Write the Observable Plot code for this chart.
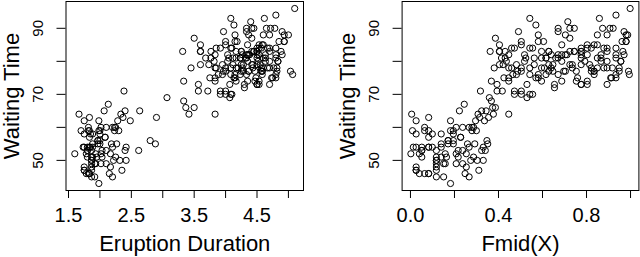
<!DOCTYPE html>
<html>
<head>
<meta charset="utf-8">
<script src="https://cdn.jsdelivr.net/npm/d3@7"></script>
<script src="https://cdn.jsdelivr.net/npm/@observablehq/plot@0.6"></script>
<style>
  html, body { margin: 0; padding: 0; background: #fff; }
  #wrap { display: flex; width: 640px; height: 257px; }
  svg { overflow: visible; }
</style>
</head>
<body>
<div id="wrap"></div>
<script>
// Old Faithful eruptions (minutes) and waiting times (minutes)
const eruptions = [3.600,1.800,3.333,2.283,4.533,2.883,4.700,3.600,1.950,4.350,1.833,3.917,4.200,1.750,4.700,2.167,1.750,4.800,1.600,4.250,1.800,1.750,3.450,3.067,4.533,3.600,1.967,4.083,3.850,4.433,4.300,4.467,3.367,4.033,3.833,2.017,1.867,4.833,1.833,4.783,4.350,1.883,4.567,1.750,4.533,3.317,3.833,2.100,4.633,2.000,4.800,4.716,1.833,4.833,1.733,4.883,3.717,1.667,4.567,4.317,2.233,4.500,1.750,4.800,1.817,4.400,4.167,4.700,2.067,4.700,4.033,1.967,4.500,4.000,1.983,5.067,2.017,4.567,3.883,3.600,4.133,4.333,4.100,2.633,4.067,4.933,3.950,4.517,2.167,4.000,2.200,4.333,1.867,4.817,1.833,4.300,4.667,3.750,1.867,4.900,2.483,4.367,2.100,4.500,4.050,1.867,4.700,1.783,4.850,3.683,4.733,2.300,4.900,4.417,1.700,4.633,2.317,4.600,1.817,4.417,2.617,4.067,4.250,1.967,4.600,3.767,1.917,4.500,2.267,4.650,1.867,4.167,2.800,4.333,1.833,4.383,1.883,4.933,2.033,3.733,4.233,2.233,4.533,4.817,4.333,1.983,4.633,2.017,5.100,1.800,5.033,4.000,2.400,4.600,3.567,4.000,4.500,4.083,1.800,3.967,2.200,4.150,2.000,3.833,3.500,4.583,2.367,5.000,1.933,4.617,1.917,2.083,4.583,3.333,4.167,4.333,4.500,2.417,4.000,4.167,1.883,4.583,4.250,3.767,2.033,4.433,4.083,1.833,4.417,2.183,4.800,1.833,4.800,4.100,3.966,4.233,3.500,4.366,2.250,4.667,2.100,4.350,4.133,1.867,4.600,1.783,4.367,3.850,1.933,4.500,2.383,4.700,1.867,3.833,3.417,4.233,2.400,4.800,2.000,4.150,1.867,4.267,1.750,4.483,4.000,4.117,4.083,4.267,3.917,4.550,4.083,2.417,4.183,2.217,4.450,1.883,1.850,4.283,3.950,2.333,4.150,2.350,4.933,2.900,4.583,3.833,2.083,4.367,2.133,4.350,2.200,4.450,3.567,4.500,4.150,3.817,3.917,4.450,2.000,4.283,4.767,4.533,1.850,4.250,1.983,2.250,4.750,4.117,2.150,4.417,1.817,4.467];
const waiting = [79,54,74,62,85,55,88,85,51,85,54,84,78,47,83,52,62,84,52,79,51,47,78,69,74,83,55,76,78,79,73,77,66,80,74,52,48,80,59,90,80,58,84,58,73,83,64,53,82,59,75,90,54,80,54,83,71,64,77,81,59,84,48,82,60,92,78,78,65,73,82,56,79,71,62,76,60,78,76,83,75,82,70,65,73,88,76,80,48,86,60,90,50,78,63,72,84,75,51,82,62,88,49,83,81,47,84,52,86,81,75,59,89,79,59,81,50,85,59,87,53,69,77,56,88,81,45,82,55,90,45,83,56,89,46,82,51,86,53,79,81,60,82,77,76,59,80,49,96,53,77,77,65,81,71,70,81,93,53,89,45,86,58,78,66,76,63,88,52,93,49,57,77,68,81,81,73,50,85,74,55,77,83,83,51,78,84,46,83,55,81,57,76,84,77,81,87,77,51,78,60,82,91,53,78,46,77,84,49,83,71,80,49,75,64,76,53,94,55,76,50,82,54,75,78,79,78,78,70,79,70,54,86,50,90,54,54,77,79,64,75,47,86,63,85,82,57,82,67,74,54,83,73,73,88,80,71,83,56,79,78,84,58,83,43,60,75,81,46,90,46,74];

const xTicksLeft = [1.5, 2, 2.5, 3, 3.5, 4, 4.5, 5];
const xLabelsLeft = [1.5, 2.5, 3.5, 4.5];
const xTicksRight = [0, 0.2, 0.4, 0.6, 0.8, 1.0];
const xLabelsRight = [0, 0.4, 0.8];
const yTicks = [50, 60, 70, 80, 90];
const yLabels = [50, 70, 90];
const xTitleLeft = "Eruption Duration";
const xTitleRight = "Fmid(X)";
const yTitle = "Waiting Time";

// mid-distribution function of eruption durations
const n = eruptions.length;
const fmid = eruptions.map(v => {
  let lt = 0, eq = 0;
  for (const u of eruptions) { if (u < v) lt++; else if (u === v) eq++; }
  return (lt + 0.5 * eq) / n;
});

const FONT = "'Liberation Sans', Arial, Helvetica, sans-serif";

function panel(xs, xDomain, ticks, labels, xTitle, marginLeft, marginRight) {
  const data = xs.map((x, i) => ({x, y: waiting[i]}));
  return Plot.plot({
    width: 320,
    height: 257,
    marginLeft, marginRight,
    marginTop: 1,
    marginBottom: 67,
    style: {fontFamily: FONT, color: "#000", background: "#fff", overflow: "visible"},
    x: {domain: xDomain},
    y: {domain: [40.88, 98.12]},
    marks: [
      Plot.frame({stroke: "#000", strokeWidth: 1}),
      Plot.axisX({ticks, tickSize: 8, tickPadding: 9, fontSize: 20,
        tickFormat: d => labels.some(l => Math.abs(l - d) < 1e-9) ? d.toFixed(1) : "", label: null}),
      Plot.axisY({ticks: yTicks, tickSize: 9, tickFormat: () => "", label: null}),
      Plot.text(yLabels, {y: d => d, text: d => String(d), frameAnchor: "left", dx: -27.5,
        rotate: -90, textAnchor: "middle", lineAnchor: "middle", fontSize: 15, fill: "#000"}),
      Plot.text([xTitle], {frameAnchor: "bottom", dy: 53.5, textAnchor: "middle", lineAnchor: "middle",
        fontSize: 22, fill: "#000"}),
      Plot.text([yTitle], {frameAnchor: "left", dx: -54, rotate: -90, textAnchor: "middle",
        lineAnchor: "middle", fontSize: 22, fill: "#000"}),
      Plot.dot(data, {x: "x", y: "y", r: 3.1, stroke: "#000", strokeWidth: 1, fill: "none"})
    ]
  });
}

const wrap = document.getElementById("wrap");
wrap.appendChild(panel(eruptions, [1.46, 5.24], xTicksLeft, xLabelsLeft, xTitleLeft, 65.5, 17));
wrap.appendChild(panel(fmid, [-0.038, 1.038], xTicksRight, xLabelsRight, xTitleRight, 81.6, 1.6));
</script>
</body>
</html>
